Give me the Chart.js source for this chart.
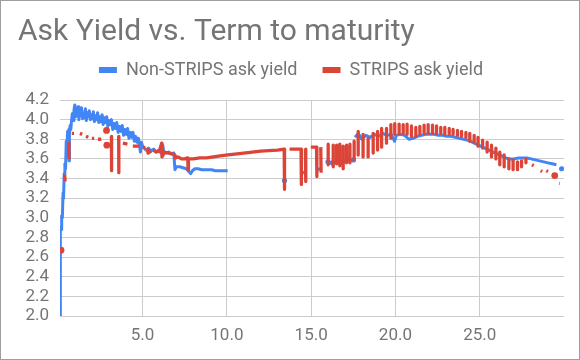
<!DOCTYPE html>
<html><head><meta charset="utf-8">
<script src="https://cdn.jsdelivr.net/npm/chart.js@4.4.0/dist/chart.umd.min.js"></script>
<style>
html,body{margin:0;padding:0;background:#fff;}
#wrap{position:relative;width:580px;height:360px;}
canvas{display:block;}
#frame{position:absolute;left:0;top:0;width:578px;height:358px;border:1px solid #9e9e9e;pointer-events:none;}
</style></head><body>
<div id="wrap"><canvas id="c" width="580" height="360"></canvas><div id="frame"></div></div>
<script>
const chartTitle = "Ask Yield vs. Term to maturity";
const seriesNames = ["Non-STRIPS ask yield", "STRIPS ask yield"];
const xTickValues = [5, 10, 15, 20, 25];
const yTickValues = [2.0, 2.2, 2.4, 2.6, 2.8, 3.0, 3.2, 3.4, 3.6, 3.8, 4.0, 4.2];

// Non-STRIPS (term in years, ask yield in %); null = no value at that row
const nonStripsTerm = [
 0.10,0.12,0.16,0.20,0.24,0.28,0.31,0.35,0.39,0.43,0.47,0.51,0.55,0.58,0.62,0.64,0.66,0.70,0.74,0.78,
 0.83,0.88,0.93,0.98,1.03,1.08,1.12,1.17,1.22,1.28,1.33,1.38,1.44,1.50,1.55,1.61,1.66,1.72,1.78,1.84,
 1.90,1.96,2.02,2.08,2.14,2.21,2.27,2.33,2.40,2.46,2.53,2.60,2.66,2.73,2.80,2.87,2.94,3.01,3.08,3.15,
 3.23,3.31,3.39,3.47,3.55,3.63,3.71,3.79,3.87,3.95,4.03,4.11,4.19,4.27,4.35,4.43,4.51,4.59,4.67,4.75,
 4.82,4.87,4.93,5.00,5.10,5.20,5.35,5.50,5.65,5.80,5.95,
 6.10,6.20,6.25,6.40,6.55,6.70,6.85,6.92,7.00,7.20,7.40,7.60,7.75,7.85,7.95,8.10,8.30,8.50,8.70,8.90,
 9.10,9.30,9.50,9.70,10.05,10.50,13.42,13.60,14.40,14.66,15.00,15.32,15.55,15.80,
 16.00,16.10,16.25,16.35,16.50,16.60,16.75,16.85,17.00,17.10,17.25,17.35,17.50,17.55,
 17.60,17.80,18.00,18.25,18.50,18.75,19.00,19.25,19.50,19.75,19.95,20.05,20.30,20.55,20.80,21.05,21.30,
 21.55,21.80,22.05,22.30,22.55,22.80,23.05,23.30,23.55,23.80,24.05,24.30,24.55,24.80,25.05,25.30,25.55,
 25.80,26.05,26.30,26.55,26.80,27.05,27.30,27.55,27.80,28.05,28.30,28.55,28.80,29.05,29.30,29.55,29.70,29.86
];
const nonStripsYield = [
 1.60,2.90,2.88,3.02,3.00,3.25,3.20,3.45,3.55,3.50,3.78,3.72,3.88,3.84,3.90,3.58,3.86,3.94,3.90,3.98,
 4.06,3.99,4.10,4.15,4.03,4.11,4.05,4.13,4.00,4.08,4.04,4.12,4.01,4.06,4.02,4.11,3.99,4.07,4.03,4.09,
 4.00,4.05,4.01,4.08,3.98,4.04,4.00,4.07,3.97,4.03,3.98,4.05,3.95,4.02,3.97,4.03,3.93,3.99,3.95,4.00,
 3.90,3.96,3.91,3.97,3.87,3.93,3.88,3.94,3.84,3.90,3.85,3.91,3.81,3.87,3.82,3.87,3.78,3.83,3.77,3.81,
 3.73,3.67,3.77,3.73,3.71,3.69,3.71,3.68,3.70,3.67,3.69,
 3.66,3.74,3.67,3.66,3.67,3.65,3.66,3.49,3.52,3.52,3.51,3.50,3.47,3.45,3.48,3.50,3.50,3.49,3.49,3.49,
 3.49,3.48,3.48,3.48,3.48,null,3.38,null,3.45,3.47,null,3.49,3.50,null,
 3.57,null,3.56,null,3.57,null,3.57,null,3.58,null,3.59,null,3.59,null,
 3.82,3.86,3.80,3.84,3.82,3.85,3.83,3.86,3.84,3.85,3.78,3.84,3.85,3.84,3.80,3.81,3.83,
 3.84,3.85,3.85,3.85,3.84,3.84,3.83,3.83,3.82,3.81,3.80,3.79,3.77,3.75,3.73,3.71,3.69,
 3.67,3.65,3.63,3.61,3.60,3.60,3.61,3.61,3.61,3.60,3.59,3.58,3.57,3.56,3.55,3.54,null,3.50
];

// STRIPS, short and middle maturities (null = no value at that row)
const stripsTerm = [
 0.16,0.17, 0.38,0.40,0.41, 0.62,0.63,0.64, 0.80,0.93,0.95, 1.28,1.42,1.44, 1.64,1.78,1.80,
 1.99,2.13,2.15, 2.35,2.55,2.57, 2.86,2.87, 2.88,2.89, 3.15,3.16,3.17, 3.58,3.59,3.60,
 3.83,4.10,4.12, 4.42,4.80,4.82, 5.02,5.15,5.17, 5.30,5.32,5.50,5.52,
 5.65,5.80,6.00,6.13,6.15,6.30,6.55,6.80,6.92,6.95,7.10,7.30,7.50,7.68,7.70,7.72,8.00,8.40,8.80,
 9.20,9.60,10.06,11.00,12.00,13.00,13.40,13.42,13.44,
 13.72,14.40,14.42,14.44, 14.66,14.68,14.70, 14.98,15.32,15.34,15.36, 15.57,15.59,15.61
];
const stripsYield = [
 2.67,null, 3.44,3.37,null, 3.76,3.61,null, 3.86,3.86,null, 3.86,3.85,null, 3.83,3.82,null,
 3.81,3.81,null, 3.80,3.80,null, 3.89,null, 3.74,null, 3.83,3.48,null, 3.83,3.46,null,
 3.76,3.75,null, 3.73,3.73,null, 3.72,3.71,null, 3.70,3.66,3.68,null,
 3.69,3.67,3.68,3.76,3.62,3.67,3.66,3.65,3.64,3.61,3.62,3.60,3.60,3.61,3.49,3.60,3.60,3.61,3.61,
 3.62,3.63,3.64,3.66,3.68,3.69,3.70,3.29,null,
 3.70,3.70,3.34,null, 3.70,3.37,null, 3.72,3.72,3.42,null, 3.72,3.46,null
];
// STRIPS, long maturities: two STRIPS per maturity (high and low yield)
const stripsBarTerm = [16.01,16.31,16.51,16.70,16.90,17.10,17.30,17.55,17.79,18.08,18.38,18.68,18.94,19.18,19.47,19.73,
 19.96,20.22,20.46,20.69,20.95,21.21,21.45,21.70,21.94,22.20,22.44,22.69,22.93,23.19,23.42,23.68,
 23.92,24.18,24.41,24.67,24.90,25.17,25.44,25.70,25.96,26.19,26.45,26.73,26.98,27.24,27.48,27.74];
const stripsBarHigh = [3.75,3.74,3.74,3.75,3.73,3.74,3.75,3.78,3.88,3.85,3.81,3.86,3.88,3.91,3.91,3.95,
 3.96,3.955,3.95,3.955,3.935,3.92,3.93,3.945,3.95,3.945,3.935,3.92,3.92,3.91,3.90,3.89,
 3.88,3.87,3.86,3.84,3.82,3.79,3.77,3.74,3.71,3.67,3.64,3.60,3.59,3.57,3.58,3.60];
const stripsBarLow = [3.54,3.52,3.55,3.53,3.50,3.56,3.56,3.59,3.64,3.62,3.62,3.66,3.69,3.72,3.76,3.81,
 3.85,3.86,3.86,3.85,3.83,3.83,3.85,3.86,3.86,3.86,3.86,3.86,3.85,3.85,3.85,3.84,
 3.83,3.82,3.78,3.77,3.73,3.71,3.67,3.62,3.60,3.54,3.52,3.50,3.49,3.49,3.52,3.56];
// STRIPS, last maturities
const stripsTailTerm = [28.10,28.20,28.22, 28.62,28.70,28.72, 28.95,29.05,29.07, 29.45,29.47, 29.70,29.74];
const stripsTailYield = [3.54,3.53,null, 3.48,3.47,null, 3.48,3.47,null, 3.43,null, 3.35,3.35];

const BLUE = '#4285F4', RED = '#DB4437', GREY = '#757575';

function toPoints(xs, ys) { return xs.map((x, i) => ({ x: x, y: ys[i] })); }
function barPoints(xs, hi, lo) {
  const out = [];
  xs.forEach((x, i) => { out.push({ x: x, y: hi[i] }, { x: x, y: lo[i] }, { x: x, y: null }); });
  return out;
}
function isolatedRadius(r) {
  return ctx => {
    const d = ctx.dataset.data, i = ctx.dataIndex, cur = d[i];
    if (!cur || cur.y == null) return 0;
    const p = d[i - 1], n = d[i + 1];
    return ((!p || p.y == null) && (!n || n.y == null)) ? r : 0;
  };
}

const legendFix = {
  id: 'legendFix',
  beforeUpdate(chart) {
    const lg = chart.legend;
    if (!lg || lg._patched) return;
    const fit = lg.fit;
    lg.fit = function () { fit.call(this); this.height = 64; };
    lg._patched = true;
  }
};

const stripsPoints = toPoints(stripsTerm, stripsYield)
  .concat(barPoints(stripsBarTerm, stripsBarHigh, stripsBarLow))
  .concat(toPoints(stripsTailTerm, stripsTailYield));

Chart.defaults.font.family = 'Roboto';
new Chart(document.getElementById('c'), {
  type: 'line',
  data: {
    datasets: [
      { label: seriesNames[0], data: toPoints(nonStripsTerm, nonStripsYield), borderColor: BLUE, backgroundColor: BLUE,
        borderWidth: 3, borderJoinStyle: 'round', pointRadius: isolatedRadius(2.6), pointBorderWidth: 0,
        pointBackgroundColor: BLUE, spanGaps: false, order: 1 },
      { label: seriesNames[1], data: stripsPoints, borderColor: RED, backgroundColor: RED,
        borderWidth: 3.3, borderJoinStyle: 'round', pointRadius: isolatedRadius(3.4), pointBorderWidth: 0,
        pointBackgroundColor: RED, spanGaps: false, order: 0 }
    ]
  },
  plugins: [legendFix],
  options: {
    responsive: false, animation: false, devicePixelRatio: 1,
    layout: { padding: { left: 18, right: 16, top: 0, bottom: 0 } },
    plugins: {
      title: { display: true, text: chartTitle, align: 'start', color: GREY,
        font: { family: 'Roboto', size: 30, weight: 'normal', lineHeight: 1.2 }, padding: { top: 14, bottom: -14 } },
      legend: { display: true, position: 'top', align: 'center',
        labels: { color: GREY, font: { family: 'Roboto', size: 18 }, boxWidth: 18, boxHeight: 6, padding: 25,
          sort: (a, b) => a.datasetIndex - b.datasetIndex,
          generateLabels: chart => Chart.defaults.plugins.legend.labels.generateLabels(chart).map(l => Object.assign(l, { lineWidth: 0 })) } },
      tooltip: { enabled: false }
    },
    scales: {
      x: { type: 'linear', min: 0.1, max: 30,
        grid: { color: '#cccccc', lineWidth: 1, drawTicks: false }, border: { display: false },
        ticks: { color: GREY, font: { size: 17 }, padding: 10, maxRotation: 0, autoSkip: false, callback: v => Number(v).toFixed(1) },
        afterBuildTicks: s => { s.ticks = xTickValues.map(v => ({ value: v })); },
        afterFit: s => { s.height = 44; } },
      y: { type: 'linear', min: 2.0, max: 4.2,
        grid: { color: '#cccccc', lineWidth: 1, drawTicks: false }, border: { display: false },
        ticks: { color: GREY, font: { size: 17 }, padding: 11, autoSkip: false, callback: v => Number(v).toFixed(1) },
        afterBuildTicks: s => { s.ticks = yTickValues.map(v => ({ value: v })); },
        afterFit: s => { s.width = 42; } }
    }
  }
});
</script>
</body></html>
